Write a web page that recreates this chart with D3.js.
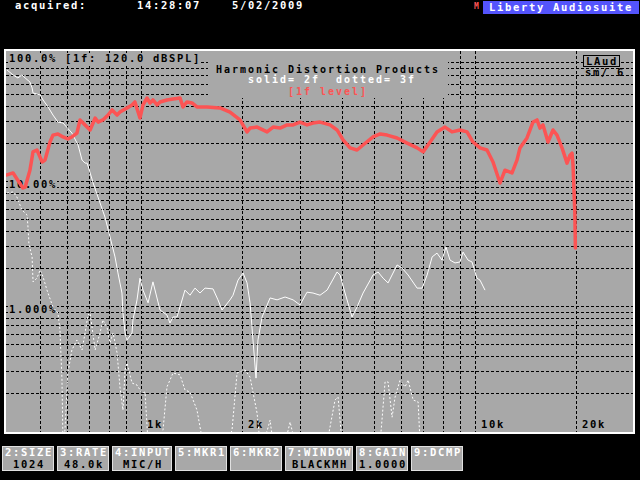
<!DOCTYPE html>
<html><head><meta charset="utf-8">
<script src="https://cdn.jsdelivr.net/npm/d3@7"></script>
<style>
html,body{margin:0;padding:0;background:#000;}
svg{display:block;}
text{font-family:"DejaVu Sans Mono","Liberation Mono",monospace;font-weight:bold;white-space:pre;}
</style>
</head><body>
<script>
// ---- data (frequency in Hz, level in %) ----
const freq1f=[397,414,443,450,465,475,488,506,516,534,545,564,584,604,621,643,657,680,704,729,744,769,797,819,848,865,908,940,959,980,993,1014,1042,1064,1086,1117,1140,1196,1247,1309,1336,1373,1421,1471,1576,1724,1847,1979,2077,2121,2226,2385,2486,2609,2738,2853,2992,3141,3273,3436,3681,3863,4027,4226,4435,4622,4952,5198,5454,5845,6262,6709,6993,7339,7695,8132,8534,9019,9465,9863,10352,10862,11323,11883,12297,12905,13356,13636,14310,14915,15333,15654,15982,16543,17124,17602,18219,18858,19253,19521,19656,19900,19980];
const pct1f=[11.2,11.6,8.79,8.95,12.2,17.1,17.7,14.2,14.7,20.5,23.3,23.8,22.5,21.7,22.5,24.2,30.8,28.1,25.6,31.9,29.6,30.8,33.7,37.0,33.7,35.6,38.4,40.6,42.9,35.6,31.9,40.6,46.1,42.1,44.5,40.6,42.9,44.5,45.3,46.1,39.1,42.9,42.1,39.1,39.1,38.4,35.6,30.8,24.7,26.5,27.0,24.7,27.0,26.5,28.1,28.1,29.6,28.1,29.1,29.6,28.1,25.6,21.3,18.4,17.7,19.4,22.5,23.8,23.3,22.1,20.1,18.4,17.1,20.5,24.7,27.0,24.7,25.6,24.7,20.5,18.4,17.7,14.2,9.64,12.2,11.6,14.7,18.4,22.1,29.6,30.8,26.5,28.1,20.5,25.6,23.3,18.4,13.9,16.1,16.7,13.4,5.65,2.91];

const freq2f=[397,414,428,440,450,465,472,475,499,509,527,545,564,584,621,648,666,680,690,719,754,780,808,836,853,877,883,896,908,940,946,973,993,1014,1050,1086,1140,1196,1221,1247,1282,1354,1402,1451,1502,1555,1643,1700,1748,1847,1886,1952,2021,2077,2121,2164,2210,2240,2304,2435,2555,2700,2853,2992,3141,3273,3436,3606,3863,3944,4083,4284,4435,4622,4952,5126,5306,5492,5845,6049,6306,6709,6945,7189,7441,7695,7965,8188,8417,8713,9019,9208,9531,9795,10139,10352,10713];
const pct2f=[77.3,70.5,66.7,70.5,66.7,61.9,55.5,50.6,48.8,44.5,39.1,33.7,29.6,29.1,24.2,19.4,14.7,13.9,13.9,9.64,6.67,5.15,3.56,2.47,1.84,1.27,0.879,0.608,0.535,0.608,0.773,1.12,1.67,1.34,1.06,1.56,0.929,0.847,0.731,0.817,0.817,1.34,1.22,1.39,1.27,1.39,1.37,1.12,0.929,1.12,1.22,1.61,1.84,1.53,1.06,0.535,0.265,0.535,0.817,1.16,1.12,1.18,1.12,1.02,1.29,1.27,1.22,1.34,1.87,1.77,1.27,0.817,0.982,1.27,1.77,1.87,1.67,1.53,2.13,2.01,1.77,1.39,1.39,1.77,2.47,2.65,2.33,2.96,2.33,2.21,2.25,2.70,2.33,2.25,1.67,1.61,1.34];

const freq3f=[397,414,425,440,456,459,462,472,475,488,499,509,523,545,564,572,580,584,592,604,621,643,666,680,694,704,729,754,769,791,808,825,848,865,883,896,908,940,973,1007,1028,1050,1117,1164,1196,1247,1309,1354,1402,1471,1533,1822,1873,1939,2049,2121,2226,2272,2385,2435,2486,2700,2795,2893,3606,3810,3890,3999,5198,5380,5492,5646,5764,5966,6176,6306,6527,6755,6849];
const pct3f=[8.02,8.17,7.45,5.86,5.35,4.21,3.08,2.47,1.56,1.67,1.94,1.71,1.34,0.982,0.879,0.643,0.256,0.08,0.102,0.291,0.445,0.535,0.445,0.608,0.847,0.879,0.445,0.608,0.773,0.679,0.506,0.608,0.421,0.225,0.147,0.308,0.350,0.242,0.233,0.201,0.205,0.08,0.08,0.102,0.225,0.291,0.281,0.213,0.205,0.147,0.08,0.08,0.102,0.291,0.308,0.270,0.139,0.08,0.1,0.122,0.08,0.08,0.118,0.08,0.08,0.177,0.187,0.08,0.08,0.247,0.247,0.129,0.187,0.256,0.225,0.256,0.177,0.171,0.08];

const gridPct=[0.2,0.3,0.4,0.5,0.6,0.7,0.8,0.9,1,2,3,4,5,6,7,8,9,10,20,30,40,50,60,70,80,90];
const gridFreq=[500,600,700,800,900,1000,2000,3000,4000,5000,6000,7000,8000,9000,10000,20000];
const yTickValues=[10,1];
const yTickLabels=["10.00%","1.000%"];
const xTickValues=[1000,2000,10000,20000];
const xTickLabels=["1k","2k","10k","20k"];
const topLabel="100.0% [1f: 120.0 dBSPL]";
const titleLines=["Harmonic Distortion Products","solid= 2f  dotted= 3f","[1f level]"];
const headerTexts=["acquired:","14:28:07","5/02/2009"];
const appName="Liberty Audiosuite";
const btnKeys=["2:SIZE","3:RATE","4:INPUT","5:MKR1","6:MKR2","7:WINDOW","8:GAIN","9:DCMP"];
const btnValues=["1024","48.0k","MIC/H","","","BLACKMH","1.0000",""];

// ---- drawing ----
const GRAY="#a8a8a8", RED="#fc5454", CELL=8, FS=10.5;
const svg=d3.select("body").append("svg").attr("width",640).attr("height",480);
svg.append("rect").attr("width",640).attr("height",480).attr("fill","#000");

function txt(g,x0,y0,s,fill,size){
  size=size||FS;
  const adv=size*0.602;
  return g.append("text").attr("x",x0).attr("y",y0).attr("fill",fill)
    .style("font-size",size+"px").style("letter-spacing",(CELL-adv)+"px")
    .attr("xml:space","preserve").text(s);
}

// header
const hx=[15,137,232];
headerTexts.forEach((s,i)=>txt(svg,hx[i],9,s,"#fff"));
txt(svg,474,9,"M",RED,8);
svg.append("rect").attr("x",483).attr("y",1).attr("width",156).attr("height",13).attr("fill","#5454fc");
txt(svg,489,11,appName,"#fff");

// plot frame
const x=d3.scaleLog().domain([1000,10000]).range([141,475]);
const y=d3.scaleLog().domain([100,0.1]).range([56,431]);
const L=6,R=633,T=51,B=432;
svg.append("rect").attr("x",4).attr("y",49).attr("width",631).attr("height",385).attr("fill","#fff");
svg.append("rect").attr("x",L).attr("y",T).attr("width",R-L).attr("height",B-T).attr("fill",GRAY);

svg.append("clipPath").attr("id","clip").append("rect").attr("x",L).attr("y",T).attr("width",R-L).attr("height",B-T);
const plot=svg.append("g").attr("clip-path","url(#clip)");

// grid
plot.selectAll("line.h").data(gridPct).join("line").attr("class","h")
  .attr("x1",L).attr("x2",R).attr("y1",d=>Math.round(y(d))+0.5).attr("y2",d=>Math.round(y(d))+0.5)
  .attr("stroke","#000").attr("stroke-width",1).attr("stroke-dasharray","3,2");
plot.selectAll("line.v").data(gridFreq).join("line").attr("class","v")
  .attr("y1",T).attr("y2",B).attr("x1",d=>Math.round(x(d))+0.5).attr("x2",d=>Math.round(x(d))+0.5)
  .attr("stroke","#000").attr("stroke-width",1).attr("stroke-dasharray","3,2");

// blanked label areas
plot.append("rect").attr("x",208).attr("y",T).attr("width",240).attr("height",47).attr("fill",GRAY);
function blankText(x0,yb,s,fill){
  plot.append("rect").attr("x",x0-1).attr("y",yb-9).attr("width",s.length*CELL+1).attr("height",11).attr("fill",GRAY);
  txt(plot,x0,yb,s,fill);
}
blankText(9,62,topLabel,"#000");
yTickValues.forEach((v,i)=>blankText(9,Math.round(y(v))+7,yTickLabels[i],"#000"));
xTickValues.forEach((v,i)=>blankText(Math.round(x(v))+6,428,xTickLabels[i],"#000"));

// title
txt(plot,216,72.5,titleLines[0],"#000",10);
txt(plot,248,83,titleLines[1],"#fff",10);
txt(plot,288,95,titleLines[2],RED,10);

// LAud legend
plot.append("rect").attr("x",583.5).attr("y",55.5).attr("width",36).attr("height",11).attr("fill",GRAY).attr("stroke","#000");
txt(plot,586,65,"LAud","#000");
txt(plot,585,76,"sm/ 6","#000");

// curves
const line=d3.line().x(d=>x(d[0])).y(d=>y(d[1]));
const s1=freq1f.map((f,i)=>[f,pct1f[i]]);
const s2=freq2f.map((f,i)=>[f,pct2f[i]]);
const s3=freq3f.map((f,i)=>[f,pct3f[i]]);
plot.append("path").attr("d",line(s3)).attr("fill","none").attr("stroke","#fff").attr("stroke-width",1).attr("stroke-dasharray","2,2");
plot.append("path").attr("d",line(s2)).attr("fill","none").attr("stroke","#fff").attr("stroke-width",1);
plot.append("path").attr("d",line(s1)).attr("fill","none").attr("stroke",RED).attr("stroke-width",3.5).attr("stroke-linejoin","round").attr("stroke-linecap","round");

// function key buttons
let bx=2;
btnKeys.forEach((k,i)=>{
  const v=btnValues[i];
  const w=Math.max(k.length,v.length,6)*CELL+4;
  svg.append("rect").attr("x",bx+0.5).attr("y",446.5).attr("width",w-1).attr("height",24).attr("fill",GRAY).attr("stroke","#e0e0e0");
  txt(svg,bx+3,456,k,"#fff");
  const vx=bx+(w-v.length*CELL)/2+1;
  txt(svg,vx,468,v,"#000");
  bx+=w+3;
});
</script>
</body></html>
